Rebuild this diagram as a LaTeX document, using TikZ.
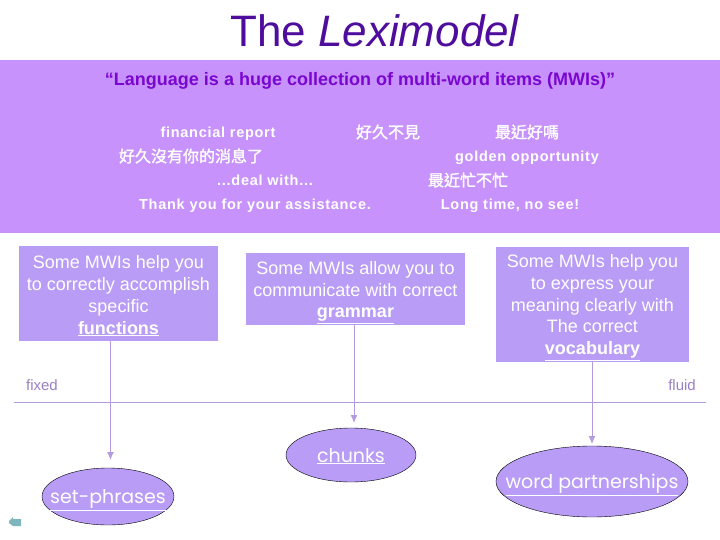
\documentclass[tikz,border=0pt]{standalone}
\usepackage{xcolor}
\usepackage{fontspec}
\usepackage{tikz}
\usetikzlibrary{shapes.geometric, arrows.meta}
\setmainfont{Liberation Sans}
\newfontfamily\cjk{Noto Sans CJK TC}[FakeBold=1.5]
\newfontfamily\spaced{Liberation Sans}[BoldFont={Liberation Sans Bold}, LetterSpace=5]
\newfontfamily\handw{Poppins}
\definecolor{bandcol}{HTML}{C792FB}
\definecolor{boxcol}{HTML}{B89CF5}
\definecolor{titlecol}{HTML}{4E0D9C}
\definecolor{quotecol}{HTML}{7A06D0}
\definecolor{linecol}{HTML}{B39BDD}
\definecolor{endcol}{HTML}{9A80C4}
\definecolor{iconcol}{HTML}{7FB5BD}
\newcommand{\blobtext}[1]{\makebox[0pt]{\raisebox{-7pt}[0pt][0pt]{\underline{#1}}}}
\newcommand{\topgap}[1]{\rule{0pt}{#1}}
\tikzset{
    phrase/.style={text=white, font=\spaced\bfseries\fontsize{14.5}{16}\selectfont},
    phrasecjk/.style={text=white, font=\cjk\fontsize{16}{18}\selectfont},
    mwibox/.style={fill=boxcol, text=white, align=center, inner sep=0pt, font=\fontsize{18}{21.8}\selectfont},
    endlabel/.style={text=endcol, font=\fontsize{15}{18}\selectfont},
    blob/.style={draw=black, fill=boxcol, ellipse, text=white, inner sep=0pt, font=\handw\fontsize{19}{22}\selectfont},
    flowline/.style={-{Latex[length=8pt,width=7pt]}, draw=linecol, line width=1pt}
}
\begin{document}
\begin{tikzpicture}[x=1pt, y=-1pt]
    \useasboundingbox (0,0) rectangle (720,540);
    \node[inner sep=0pt, text=titlecol, font=\fontsize{44}{50}\selectfont] (title) at (375,31) {The \textit{Leximodel}};
    \fill[bandcol] (0,60) rectangle (720,233);
    \node[inner sep=0pt, text=quotecol, font=\bfseries\fontsize{18}{20}\selectfont] (quote) at (360,81) {``Language is a huge collection of multi-word items (MWIs)''};

    \node[phrase] (report) at (218,134) {financial report};
    \node[phrasecjk] (hello) at (388,132) {好久不見};
    \node[phrasecjk] (recent) at (527,132) {最近好嗎};
    \node[phrasecjk] (news) at (191,156) {好久沒有你的消息了};
    \node[phrase] (golden) at (527,158) {golden opportunity};
    \node[phrase] (deal) at (265,180) {...deal with...};
    \node[phrasecjk] (busy) at (468,180) {最近忙不忙};
    \node[phrase] (thanks) at (255,206) {Thank you for your assistance.};
    \node[phrase] (longtime) at (510,206) {Long time, no see!};

    \node[mwibox, minimum width=199pt, minimum height=95pt] (functions) at (118.5,293.5) {\topgap{18pt}Some MWIs help you\\to correctly accomplish\\specific\\\underline{\textbf{functions}}};
    \node[mwibox, minimum width=219pt, minimum height=72pt] (grammar) at (355.5,289) {\topgap{20pt}Some MWIs allow you to\\communicate with correct\\\underline{\textbf{grammar}}};
    \node[mwibox, minimum width=193pt, minimum height=115pt] (vocab) at (592.5,304.5) {\topgap{19pt}Some MWIs help you\\to express your\\meaning clearly with\\The correct\\\underline{\textbf{vocabulary}}};

    \node[endlabel] (fixed) at (42,385) {fixed};
    \node[endlabel] (fluid) at (682,385) {fluid};
    \coordinate (axisl) at (14,402);
    \coordinate (axisr) at (706,402);
    \draw[draw=linecol, line width=1pt] (axisl) -- (axisr);

    \node[blob, minimum width=132pt, minimum height=57pt] (setphrases) at (108,496.5) {\blobtext{set-phrases}};
    \node[blob, minimum width=130pt, minimum height=54pt] (chunks) at (351,455) {\blobtext{chunks}};
    \node[blob, minimum width=192pt, minimum height=71pt] (partners) at (592,481.5) {\blobtext{word partnerships}};

    \coordinate (tipa) at (110.5,460);
    \coordinate (tipb) at (354,423);
    \coordinate (tipc) at (592,444);
    \draw[flowline] (functions.south -| tipa) -- (tipa);
    \draw[flowline] (grammar.south -| tipb) -- (tipb);
    \draw[flowline] (vocab.south -| tipc) -- (tipc);

    % back icon
    \fill[iconcol] (9,521) -- (13,517) -- (13,519) -- (21,519) -- (21,526) -- (13,526) -- (9,523) -- cycle;
\end{tikzpicture}
\end{document}
